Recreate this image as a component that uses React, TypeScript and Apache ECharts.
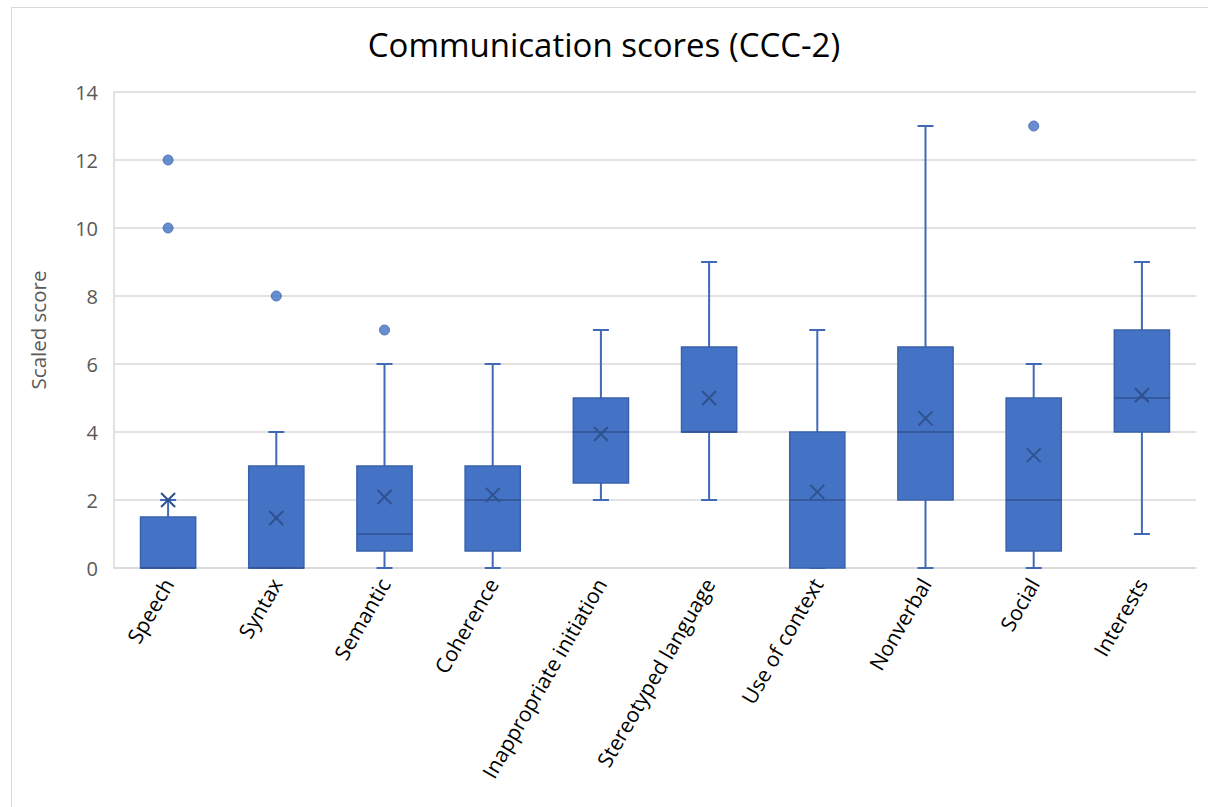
import React, { useEffect, useRef } from "react";
import * as echarts from "echarts";

const categories = [
  "Speech",
  "Syntax",
  "Semantic",
  "Coherence",
  "Inappropriate initiation",
  "Stereotyped language",
  "Use of context",
  "Nonverbal",
  "Social",
  "Interests",
];
const whiskerMin = [0, 0, 0, 0, 2, 2, 0, 0, 0, 1];
const q1Values = [0, 0, 0.5, 0.5, 2.5, 4, 0, 2, 0.5, 4];
const medianValues = [0, 0, 1, 2, 4, 4, 2, 4, 2, 5];
const q3Values = [1.5, 3, 3, 3, 5, 6.5, 4, 6.5, 5, 7];
const whiskerMax = [2, 4, 6, 6, 7, 9, 7, 13, 6, 9];
const meanValues = [2, 1.47, 2.09, 2.15, 3.94, 5, 2.24, 4.4, 3.32, 5.08];
const outlierCats = ["Speech", "Speech", "Syntax", "Semantic", "Social"];
const outlierValues = [12, 10, 8, 7, 13];

const FONT = "'Open Sans', Lato, sans-serif";

export default function App() {
  const ref = useRef<HTMLDivElement>(null);
  useEffect(() => {
    document.body.style.margin = "0";
    const chart = echarts.init(ref.current!, null, { renderer: "svg" });
    const boxData = categories.map((_, i) => [
      i,
      whiskerMin[i],
      q1Values[i],
      medianValues[i],
      q3Values[i],
      whiskerMax[i],
      meanValues[i],
    ]);
    const outliers = outlierCats.map((c, i) => [c, outlierValues[i]]);
    chart.setOption({
      animation: false,
      backgroundColor: "#ffffff",
      textStyle: { fontFamily: FONT },
      title: {
        text: "Communication scores (CCC-2)",
        left: "center",
        top: 23,
        textStyle: { fontFamily: FONT, fontSize: 33, fontWeight: "normal", color: "#000000" },
      },
      graphic: [
        {
          type: "rect",
          shape: { x: 11.5, y: 7.5, width: 1300, height: 900 },
          style: { fill: "none", stroke: "#D9D9D9", lineWidth: 1 },
          silent: true,
        },
      ],
      grid: { left: 114, right: 12, top: 92, bottom: 239 },
      xAxis: {
        type: "category",
        data: categories,
        boundaryGap: true,
        axisLine: { show: true, lineStyle: { color: "#D9D9D9", width: 1.5 } },
        axisTick: { show: false },
        axisLabel: {
          rotate: 60,
          fontSize: 21,
          color: "#000000",
          fontFamily: FONT,
          margin: 12,
          interval: 0,
        },
      },
      yAxis: {
        type: "value",
        min: 0,
        max: 14,
        interval: 2,
        name: "Scaled score",
        nameLocation: "middle",
        nameGap: 66,
        nameRotate: 90,
        nameTextStyle: { fontSize: 20.5, color: "#595959", fontFamily: FONT },
        axisLine: { show: true, lineStyle: { color: "#D9D9D9", width: 1.5 } },
        axisTick: { show: false },
        axisLabel: { fontSize: 20, color: "#595959", fontFamily: FONT, margin: 16 },
        splitLine: { show: true, lineStyle: { color: "#D9D9D9", width: 1.5 } },
      },
      series: [
        {
          type: "custom",
          data: boxData,
          encode: { x: 0, y: [1, 2, 3, 4, 5, 6] },
          renderItem: (params: any, api: any) => {
            const idx = api.value(0);
            const band = api.size([1, 0])[0];
            const bw = band * 0.51;
            const cap = 16;
            const p = (v: number) => api.coord([idx, v]);
            const [cx, yMin] = p(api.value(1));
            const yQ1 = p(api.value(2))[1];
            const yMed = p(api.value(3))[1];
            const yQ3 = p(api.value(4))[1];
            const yMax = p(api.value(5))[1];
            const yMean = p(api.value(6))[1];
            const lineCol = "#4169B5";
            const dark = "#2F528F";
            const lw = 2;
            const m = 7;
            return {
              type: "group",
              children: [
                {
                  type: "line",
                  shape: { x1: cx, y1: yQ3, x2: cx, y2: yMax },
                  style: { stroke: lineCol, lineWidth: lw },
                },
                {
                  type: "line",
                  shape: { x1: cx, y1: yQ1, x2: cx, y2: yMin },
                  style: { stroke: lineCol, lineWidth: lw },
                },
                {
                  type: "line",
                  shape: { x1: cx - cap / 2, y1: yMax, x2: cx + cap / 2, y2: yMax },
                  style: { stroke: lineCol, lineWidth: lw },
                },
                {
                  type: "line",
                  shape: { x1: cx - cap / 2, y1: yMin, x2: cx + cap / 2, y2: yMin },
                  style: { stroke: lineCol, lineWidth: lw },
                },
                {
                  type: "rect",
                  shape: { x: cx - bw / 2, y: yQ3, width: bw, height: yQ1 - yQ3 },
                  style: { fill: "#4472C4", stroke: "#3A62AC", lineWidth: 1.5 },
                },
                {
                  type: "line",
                  shape: { x1: cx - bw / 2, y1: yMed, x2: cx + bw / 2, y2: yMed },
                  style: { stroke: dark, lineWidth: 1.5 },
                },
                {
                  type: "line",
                  shape: { x1: cx - m, y1: yMean - m, x2: cx + m, y2: yMean + m },
                  style: { stroke: dark, lineWidth: 2 },
                },
                {
                  type: "line",
                  shape: { x1: cx - m, y1: yMean + m, x2: cx + m, y2: yMean - m },
                  style: { stroke: dark, lineWidth: 2 },
                },
              ],
            };
          },
        },
        {
          type: "scatter",
          data: outliers,
          symbol: "circle",
          symbolSize: 10,
          itemStyle: { color: "#4472C4", borderColor: "#3A62AC", borderWidth: 1 },
        },
      ],
    });
    return () => chart.dispose();
  }, []);
  return <div ref={ref} style={{ width: 1208, height: 807 }} />;
}
